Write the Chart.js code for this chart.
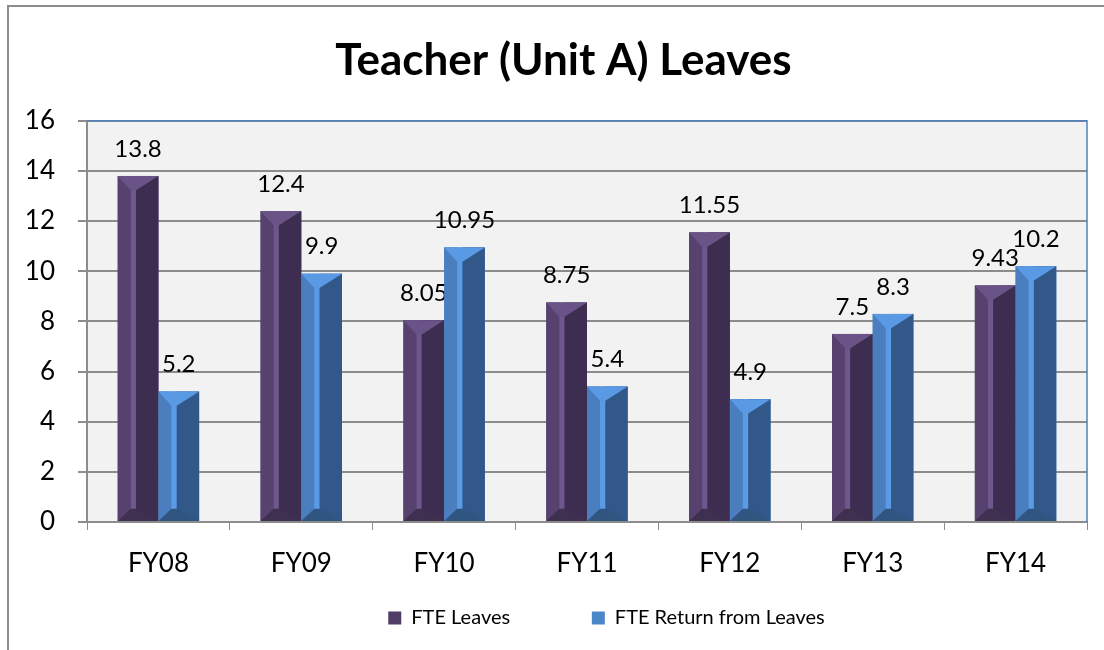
<!DOCTYPE html>
<html>
<head>
<meta charset="utf-8">
<script src="https://cdn.jsdelivr.net/npm/chart.js@4"></script>
<style>
  body { margin: 0; background: #fff; }
  canvas { display: block; }
</style>
</head>
<body>
<canvas id="chart" width="1104" height="650"></canvas>
<script>
const labels = ["FY08", "FY09", "FY10", "FY11", "FY12", "FY13", "FY14"];
const leaves = [13.8, 12.4, 8.05, 8.75, 11.55, 7.5, 9.43];
const returns = [5.2, 9.9, 10.95, 5.4, 4.9, 8.3, 10.2];

const bevels = [
    { left: "#57426f", stripe: "#6d578c", right: "#3d2d50", top: "#6a5487", bottom: "#3f3050" },
    { left: "#4a7ebf", stripe: "#5b9be6", right: "#32588a", top: "#5a9ae4", bottom: "#2f5580" }
];

const FONT = "Lato, 'Open Sans', sans-serif";

// outer frame + grey plot background
const frame = {
    id: "frame",
    beforeDraw(chart) {
        const ctx = chart.ctx;
        const a = chart.chartArea;
        ctx.save();
        ctx.fillStyle = "#f2f2f2";
        ctx.fillRect(a.left, a.top, a.right - a.left, a.bottom - a.top);
        ctx.strokeStyle = "#8c8c8c";
        ctx.lineWidth = 2;
        ctx.beginPath();
        ctx.moveTo(8, 650);
        ctx.lineTo(8, 6);
        ctx.lineTo(1104, 6);
        ctx.stroke();
        ctx.restore();
    },
    afterDraw(chart) {
        const ctx = chart.ctx;
        const a = chart.chartArea;
        ctx.save();
        ctx.strokeStyle = "#4f81bd";
        ctx.lineWidth = 1.5;
        ctx.beginPath();
        ctx.moveTo(a.left, a.top);
        ctx.lineTo(a.right, a.top);
        ctx.lineTo(a.right, a.bottom);
        ctx.stroke();
        ctx.restore();
    }
};

// the original frame is wider than the window, so title and legend sit right of centre
const shiftBoxes = {
    id: "shiftBoxes",
    afterLayout(chart) {
        chart.titleBlock.left += 20;
        chart.titleBlock.right += 20;
        chart.legend.left += 63;
        chart.legend.right += 63;
    }
};

// bevelled bars and value labels
const bevelBars = {
    id: "bevelBars",
    afterDatasetsDraw(chart) {
        const ctx = chart.ctx;
        chart.data.datasets.forEach((ds, i) => {
            const c = bevels[i];
            chart.getDatasetMeta(i).data.forEach((bar, j) => {
                const w = bar.width;
                const l = bar.x - w / 2;
                const r = bar.x + w / 2;
                const t = bar.y;
                const b = bar.base;
                const s1 = l + w * 0.32;
                const s2 = l + w * 0.45;
                ctx.save();
                ctx.fillStyle = c.left;
                ctx.fillRect(l, t, s1 - l, b - t);
                ctx.fillStyle = c.stripe;
                ctx.fillRect(s1, t, s2 - s1, b - t);
                ctx.fillStyle = c.right;
                ctx.fillRect(s2, t, r - s2, b - t);
                const th = Math.min(w * 0.35, (b - t) / 2);
                ctx.fillStyle = c.top;
                ctx.beginPath();
                ctx.moveTo(l, t);
                ctx.lineTo(r, t);
                ctx.lineTo(s2, t + th);
                ctx.lineTo(s1, t + th);
                ctx.closePath();
                ctx.fill();
                const bh = Math.min(w * 0.3, (b - t) / 2);
                ctx.fillStyle = c.bottom;
                ctx.beginPath();
                ctx.moveTo(l, b);
                ctx.lineTo(r, b);
                ctx.lineTo(s2, b - bh);
                ctx.lineTo(s1, b - bh);
                ctx.closePath();
                ctx.fill();

                ctx.fillStyle = "#000";
                ctx.font = "24px " + FONT;
                ctx.textAlign = "center";
                ctx.textBaseline = "middle";
                ctx.fillText(String(ds.data[j]), bar.x, t - 27);
                ctx.restore();
            });
        });
    }
};

const ctx = document.getElementById("chart").getContext("2d");
new Chart(ctx, {
    type: "bar",
    data: {
        labels: labels,
        datasets: [
            { label: "FTE Leaves", data: leaves, backgroundColor: "#4f3d66", borderWidth: 0 },
            { label: "FTE Return from Leaves", data: returns, backgroundColor: "#4a86c8", borderWidth: 0 }
        ]
    },
    options: {
        responsive: false,
        animation: false,
        layout: { padding: { top: 16, right: 17, bottom: 12, left: 0 } },
        datasets: {
            bar: { categoryPercentage: 0.57, barPercentage: 1.0 }
        },
        plugins: {
            title: {
                display: true,
                text: "Teacher (Unit A) Leaves",
                color: "#000",
                font: { family: FONT, size: 44, weight: "bold", lineHeight: 1.2 },
                padding: { top: 18, bottom: 34 }
            },
            legend: {
                display: true,
                position: "bottom",
                labels: {
                    color: "#000",
                    font: { family: FONT, size: 20 },
                    boxWidth: 13,
                    boxHeight: 13,
                    padding: 10,
                    generateLabels: chart => {
                        const items = Chart.defaults.plugins.legend.labels.generateLabels(chart);
                        items[0].text += "              ";
                        return items;
                    }
                }
            },
            tooltip: { enabled: false }
        },
        scales: {
            x: {
                afterFit: scale => { scale.height = 76; },
                grid: {
                    offset: true,
                    drawOnChartArea: false,
                    tickLength: 8,
                    color: "#8c8c8c"
                },
                border: { color: "#8c8c8c", width: 2 },
                ticks: {
                    color: "#000",
                    font: { family: FONT, size: 26 },
                    padding: 18
                }
            },
            y: {
                min: 0,
                max: 16,
                afterFit: scale => { scale.width = 87; },
                ticks: {
                    stepSize: 2,
                    color: "#000",
                    font: { family: FONT, size: 26 },
                    padding: 23
                },
                grid: { color: "#8c8c8c", lineWidth: 2, tickLength: 9 },
                border: { color: "#8c8c8c", width: 2 }
            }
        }
    },
    plugins: [frame, shiftBoxes, bevelBars]
});
</script>
</body>
</html>
